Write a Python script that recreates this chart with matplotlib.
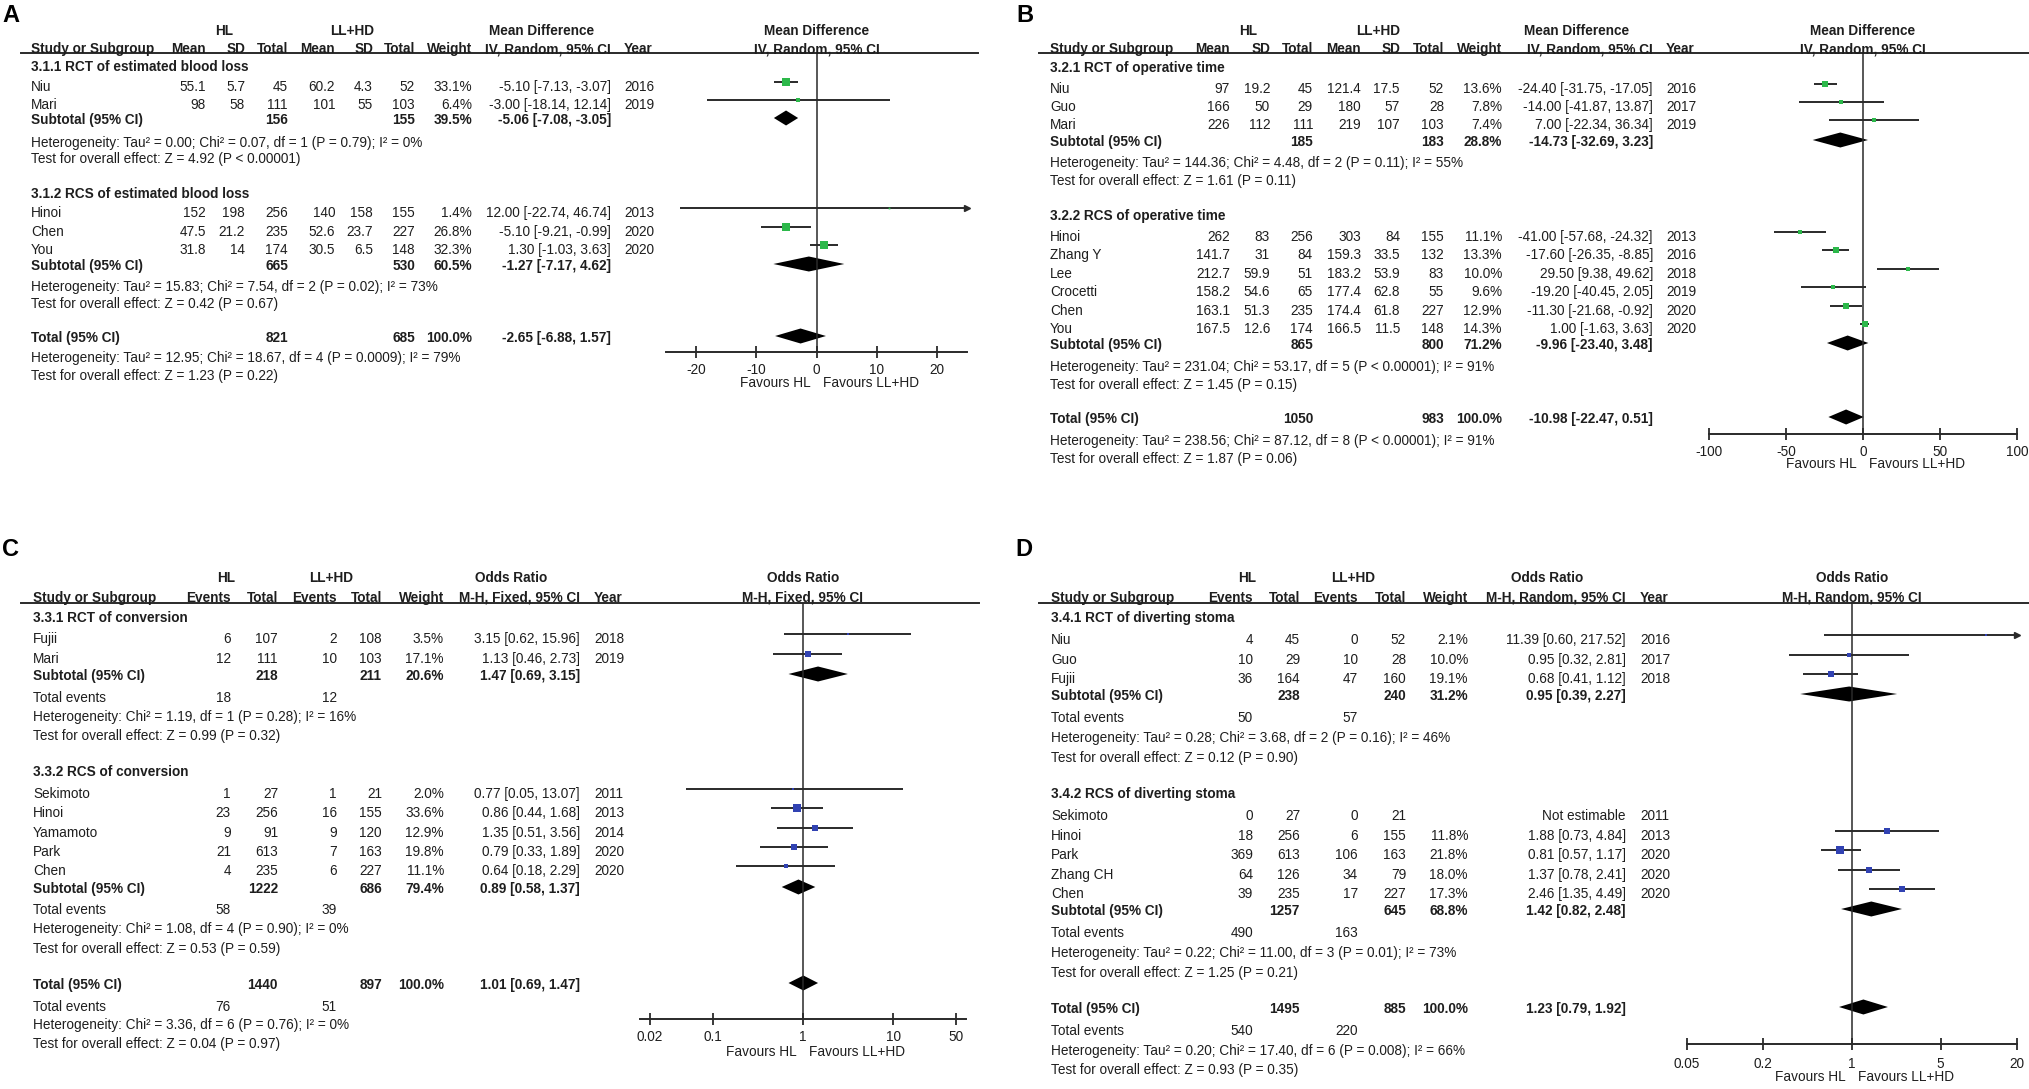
import math
import matplotlib
matplotlib.use('Agg')
import matplotlib.pyplot as plt
from matplotlib import font_manager as fm
from matplotlib import transforms as mtrans

W, H = 2029, 1089
_names = {f.name for f in fm.fontManager.ttflist}
FONT = 'Liberation Sans' if 'Liberation Sans' in _names else 'DejaVu Sans'
plt.rcParams['font.family'] = [FONT, 'DejaVu Sans']

TXT = '#1e1e1e'
LINE = '#2a2a2a'
GREEN = '#2cb84a'
BLUE = '#3142b2'
FS = 9.8

# ---------------- Panel A : estimated blood loss ----------------
A_study = ['Niu', 'Mari', 'Hinoi', 'Chen', 'You']
A_group = [0, 0, 1, 1, 1]
A_hl_mean = [55.1, 98, 152, 47.5, 31.8]
A_hl_sd = [5.7, 58, 198, 21.2, 14]
A_hl_n = [45, 111, 256, 235, 174]
A_ll_mean = [60.2, 101, 140, 52.6, 30.5]
A_ll_sd = [4.3, 55, 158, 23.7, 6.5]
A_ll_n = [52, 103, 155, 227, 148]
A_weight = [33.1, 6.4, 1.4, 26.8, 32.3]
A_est = [-5.10, -3.00, 12.00, -5.10, 1.30]
A_lo = [-7.13, -18.14, -22.74, -9.21, -1.03]
A_hi = [-3.07, 12.14, 46.74, -0.99, 3.63]
A_year = [2016, 2019, 2013, 2020, 2020]
A_sub_title = ['3.1.1 RCT of estimated blood loss', '3.1.2 RCS of estimated blood loss']
A_sub_hl_n = [156, 665]
A_sub_ll_n = [155, 530]
A_sub_weight = [39.5, 60.5]
A_sub_est = [-5.06, -1.27]
A_sub_lo = [-7.08, -7.17]
A_sub_hi = [-3.05, 4.62]
A_sub_het = ['Heterogeneity: Tau² = 0.00; Chi² = 0.07, df = 1 (P = 0.79); I² = 0%',
             'Heterogeneity: Tau² = 15.83; Chi² = 7.54, df = 2 (P = 0.02); I² = 73%']
A_sub_test = ['Test for overall effect: Z = 4.92 (P < 0.00001)',
              'Test for overall effect: Z = 0.42 (P = 0.67)']
A_tot_hl_n, A_tot_ll_n, A_tot_weight = 821, 685, 100.0
A_tot_est, A_tot_lo, A_tot_hi = -2.65, -6.88, 1.57
A_tot_het = 'Heterogeneity: Tau² = 12.95; Chi² = 18.67, df = 4 (P = 0.0009); I² = 79%'
A_tot_test = 'Test for overall effect: Z = 1.23 (P = 0.22)'
A_ticks = [-20, -10, 0, 10, 20]

# ---------------- Panel B : operative time ----------------
B_study = ['Niu', 'Guo', 'Mari', 'Hinoi', 'Zhang Y', 'Lee', 'Crocetti', 'Chen', 'You']
B_group = [0, 0, 0, 1, 1, 1, 1, 1, 1]
B_hl_mean = [97, 166, 226, 262, 141.7, 212.7, 158.2, 163.1, 167.5]
B_hl_sd = [19.2, 50, 112, 83, 31, 59.9, 54.6, 51.3, 12.6]
B_hl_n = [45, 29, 111, 256, 84, 51, 65, 235, 174]
B_ll_mean = [121.4, 180, 219, 303, 159.3, 183.2, 177.4, 174.4, 166.5]
B_ll_sd = [17.5, 57, 107, 84, 33.5, 53.9, 62.8, 61.8, 11.5]
B_ll_n = [52, 28, 103, 155, 132, 83, 55, 227, 148]
B_weight = [13.6, 7.8, 7.4, 11.1, 13.3, 10.0, 9.6, 12.9, 14.3]
B_est = [-24.40, -14.00, 7.00, -41.00, -17.60, 29.50, -19.20, -11.30, 1.00]
B_lo = [-31.75, -41.87, -22.34, -57.68, -26.35, 9.38, -40.45, -21.68, -1.63]
B_hi = [-17.05, 13.87, 36.34, -24.32, -8.85, 49.62, 2.05, -0.92, 3.63]
B_year = [2016, 2017, 2019, 2013, 2016, 2018, 2019, 2020, 2020]
B_sub_title = ['3.2.1 RCT of operative time', '3.2.2 RCS of operative time']
B_sub_hl_n = [185, 865]
B_sub_ll_n = [183, 800]
B_sub_weight = [28.8, 71.2]
B_sub_est = [-14.73, -9.96]
B_sub_lo = [-32.69, -23.40]
B_sub_hi = [3.23, 3.48]
B_sub_het = ['Heterogeneity: Tau² = 144.36; Chi² = 4.48, df = 2 (P = 0.11); I² = 55%',
             'Heterogeneity: Tau² = 231.04; Chi² = 53.17, df = 5 (P < 0.00001); I² = 91%']
B_sub_test = ['Test for overall effect: Z = 1.61 (P = 0.11)',
              'Test for overall effect: Z = 1.45 (P = 0.15)']
B_tot_hl_n, B_tot_ll_n, B_tot_weight = 1050, 983, 100.0
B_tot_est, B_tot_lo, B_tot_hi = -10.98, -22.47, 0.51
B_tot_het = 'Heterogeneity: Tau² = 238.56; Chi² = 87.12, df = 8 (P < 0.00001); I² = 91%'
B_tot_test = 'Test for overall effect: Z = 1.87 (P = 0.06)'
B_ticks = [-100, -50, 0, 50, 100]

# ---------------- Panel C : conversion ----------------
C_study = ['Fujii', 'Mari', 'Sekimoto', 'Hinoi', 'Yamamoto', 'Park', 'Chen']
C_group = [0, 0, 1, 1, 1, 1, 1]
C_hl_ev = [6, 12, 1, 23, 9, 21, 4]
C_hl_n = [107, 111, 27, 256, 91, 613, 235]
C_ll_ev = [2, 10, 1, 16, 9, 7, 6]
C_ll_n = [108, 103, 21, 155, 120, 163, 227]
C_weight = [3.5, 17.1, 2.0, 33.6, 12.9, 19.8, 11.1]
C_est = [3.15, 1.13, 0.77, 0.86, 1.35, 0.79, 0.64]
C_lo = [0.62, 0.46, 0.05, 0.44, 0.51, 0.33, 0.18]
C_hi = [15.96, 2.73, 13.07, 1.68, 3.56, 1.89, 2.29]
C_year = [2018, 2019, 2011, 2013, 2014, 2020, 2020]
C_sub_title = ['3.3.1 RCT of conversion', '3.3.2 RCS of conversion']
C_sub_hl_n = [218, 1222]
C_sub_ll_n = [211, 686]
C_sub_weight = [20.6, 79.4]
C_sub_est = [1.47, 0.89]
C_sub_lo = [0.69, 0.58]
C_sub_hi = [3.15, 1.37]
C_sub_hl_ev = [18, 58]
C_sub_ll_ev = [12, 39]
C_sub_het = ['Heterogeneity: Chi² = 1.19, df = 1 (P = 0.28); I² = 16%',
             'Heterogeneity: Chi² = 1.08, df = 4 (P = 0.90); I² = 0%']
C_sub_test = ['Test for overall effect: Z = 0.99 (P = 0.32)',
              'Test for overall effect: Z = 0.53 (P = 0.59)']
C_tot_hl_n, C_tot_ll_n, C_tot_weight = 1440, 897, 100.0
C_tot_est, C_tot_lo, C_tot_hi = 1.01, 0.69, 1.47
C_tot_hl_ev, C_tot_ll_ev = 76, 51
C_tot_het = 'Heterogeneity: Chi² = 3.36, df = 6 (P = 0.76); I² = 0%'
C_tot_test = 'Test for overall effect: Z = 0.04 (P = 0.97)'
C_ticks = [0.02, 0.1, 1, 10, 50]
C_ticklabels = ['0.02', '0.1', '1', '10', '50']

# ---------------- Panel D : diverting stoma ----------------
D_study = ['Niu', 'Guo', 'Fujii', 'Sekimoto', 'Hinoi', 'Park', 'Zhang CH', 'Chen']
D_group = [0, 0, 0, 1, 1, 1, 1, 1]
D_hl_ev = [4, 10, 36, 0, 18, 369, 64, 39]
D_hl_n = [45, 29, 164, 27, 256, 613, 126, 235]
D_ll_ev = [0, 10, 47, 0, 6, 106, 34, 17]
D_ll_n = [52, 28, 160, 21, 155, 163, 79, 227]
D_weight = [2.1, 10.0, 19.1, None, 11.8, 21.8, 18.0, 17.3]
D_est = [11.39, 0.95, 0.68, None, 1.88, 0.81, 1.37, 2.46]
D_lo = [0.60, 0.32, 0.41, None, 0.73, 0.57, 0.78, 1.35]
D_hi = [217.52, 2.81, 1.12, None, 4.84, 1.17, 2.41, 4.49]
D_year = [2016, 2017, 2018, 2011, 2013, 2020, 2020, 2020]
D_sub_title = ['3.4.1 RCT of diverting stoma', '3.4.2 RCS of diverting stoma']
D_sub_hl_n = [238, 1257]
D_sub_ll_n = [240, 645]
D_sub_weight = [31.2, 68.8]
D_sub_est = [0.95, 1.42]
D_sub_lo = [0.39, 0.82]
D_sub_hi = [2.27, 2.48]
D_sub_hl_ev = [50, 490]
D_sub_ll_ev = [57, 163]
D_sub_het = ['Heterogeneity: Tau² = 0.28; Chi² = 3.68, df = 2 (P = 0.16); I² = 46%',
             'Heterogeneity: Tau² = 0.22; Chi² = 11.00, df = 3 (P = 0.01); I² = 73%']
D_sub_test = ['Test for overall effect: Z = 0.12 (P = 0.90)',
              'Test for overall effect: Z = 1.25 (P = 0.21)']
D_tot_hl_n, D_tot_ll_n, D_tot_weight = 1495, 885, 100.0
D_tot_est, D_tot_lo, D_tot_hi = 1.23, 0.79, 1.92
D_tot_hl_ev, D_tot_ll_ev = 540, 220
D_tot_het = 'Heterogeneity: Tau² = 0.20; Chi² = 17.40, df = 6 (P = 0.008); I² = 66%'
D_tot_test = 'Test for overall effect: Z = 0.93 (P = 0.35)'
D_ticks = [0.05, 0.2, 1, 5, 20]
D_ticklabels = ['0.05', '0.2', '1', '5', '20']

# ---------------------------------------------------------------
fig = plt.figure(figsize=(W / 100, H / 100), dpi=100)
ov = fig.add_axes([0, 0, 1, 1])
ov.set_xlim(0, W)
ov.set_ylim(H, 0)
ov.axis('off')

BASE = 5  # text centre -> baseline offset (px)


def txt(x, y, s, ha='left', bold=False, size=FS):
    ov.text(x, y + BASE, s, ha=ha, va='baseline', fontsize=size,
            fontweight='bold' if bold else 'normal', color=TXT)


def fmt(v):
    return str(v)


def draw_panel(P, L):
    # letter
    ov.text(L['letter_xy'][0], L['letter_xy'][1], P['letter'], ha='left', va='center',
            fontsize=17, fontweight='bold', color='black')
    # group headers
    for lab, x in L['grp_hdr']:
        txt(x, L['y_grp'], lab, ha='center', bold=True)
    # column headers
    txt(L['x_study'], L['y_col'], 'Study or Subgroup', bold=True)
    for lab, x in zip(P['col_hdr'], L['col_x']):
        txt(x, L['y_col'], lab, ha='right', bold=True)
    txt(L['x_w'], L['y_col'], 'Weight', ha='right', bold=True)
    txt(L['x_ci'], L['y_col'], P['method'], ha='right', bold=True)
    txt(L['x_year'], L['y_col'], 'Year', bold=True)
    ov.plot([L['line_x0'], L['line_x1']], [L['y_line'], L['y_line']], color=LINE, lw=1.4)

    # forest axes
    x0, x1 = L['ax_x']
    ytop, ybot = L['y_line'], L['ax_y']
    ax = fig.add_axes([x0 / W, 1 - ybot / H, (x1 - x0) / W, (ybot - ytop) / H])
    ax.patch.set_alpha(0)
    if P['log']:
        ax.set_xscale('log')
    ax.set_xlim(P['xlim'])
    ax.set_ylim(ybot, ytop)
    for s in ('top', 'left', 'right'):
        ax.spines[s].set_visible(False)
    ax.spines['bottom'].set_color(LINE)
    ax.spines['bottom'].set_linewidth(1.4)
    ax.set_yticks([])
    ax.set_xticks(P['ticks'])
    ax.set_xticklabels(P['ticklabels'])
    ax.minorticks_off()
    ax.tick_params(axis='x', direction='inout', length=8, width=1.3, color=LINE,
                   labelsize=FS, labelcolor=TXT, pad=(L['y_tick'] - L['ax_y'] - 9) * 0.72)
    ax.axvline(P['null'], color=LINE, lw=1.1)
    blend = mtrans.blended_transform_factory(ax.transData, ov.transData)
    ax.text(P['null'], L['y_grp'] + BASE, P['effect'], transform=blend, ha='center',
            va='baseline', fontsize=FS, fontweight='bold', color=TXT)
    ax.text(P['null'], L['y_col'] + BASE, P['method'], transform=blend, ha='center',
            va='baseline', fontsize=FS, fontweight='bold', color=TXT)
    ax.annotate('Favours HL', xy=(P['null'], L['y_fav'] + BASE), xycoords=blend,
                xytext=(-4.5, 0), textcoords='offset points', ha='right', va='baseline',
                fontsize=FS, color=TXT)
    ax.annotate('Favours LL+HD', xy=(P['null'], L['y_fav'] + BASE), xycoords=blend,
                xytext=(4.5, 0), textcoords='offset points', ha='left', va='baseline',
                fontsize=FS, color=TXT)
    xmin, xmax = P['xlim']

    def diamond(e, lo, hi, y):
        h = 7.5
        ax.fill([lo, e, hi, e], [y, y - h, y, y + h], color='black', lw=0)

    n_idx = L['n_idx']
    ev_idx = L.get('ev_idx')
    for g in range(2):
        txt(L['x_study'], L['y_sub'][g], P['sub_title'][g], bold=True)
        idx = [i for i, gg in enumerate(P['group']) if gg == g]
        for i in idx:
            y = L['y_study'][i]
            txt(L['x_study'], y, P['study'][i])
            for col, x in zip(P['cols'], L['col_x']):
                txt(x, y, fmt(col[i]), ha='right')
            txt(L['x_year'], y, str(P['year'][i]))
            if P['est'][i] is None:
                txt(L['x_ci'], y, 'Not estimable', ha='right')
                continue
            txt(L['x_w'], y, '%.1f%%' % P['weight'][i], ha='right')
            txt(L['x_ci'], y, '%.2f [%.2f, %.2f]' % (P['est'][i], P['lo'][i], P['hi'][i]), ha='right')
            ym = y - 4
            lo = max(P['lo'][i], xmin)
            hi = min(P['hi'][i], xmax)
            ax.plot([lo, hi], [ym, ym], color=LINE, lw=1.4, solid_capstyle='butt')
            if P['hi'][i] > xmax:
                ax.plot([xmax], [ym], marker='>', ms=5, color=LINE, clip_on=False, ls='none')
            side = 1.5 * math.sqrt(P['weight'][i]) * 0.72
            ax.plot([P['est'][i]], [ym], marker='s', ms=side, mfc=P['color'], mec=P['color'],
                    mew=0, ls='none')
        # subtotal
        ys = L['y_subtot'][g]
        txt(L['x_study'], ys, 'Subtotal (95% CI)', bold=True)
        txt(L['col_x'][n_idx[0]], ys, str(P['sub_hl_n'][g]), ha='right', bold=True)
        txt(L['col_x'][n_idx[1]], ys, str(P['sub_ll_n'][g]), ha='right', bold=True)
        txt(L['x_w'], ys, '%.1f%%' % P['sub_weight'][g], ha='right', bold=True)
        txt(L['x_ci'], ys, '%.2f [%.2f, %.2f]' % (P['sub_est'][g], P['sub_lo'][g], P['sub_hi'][g]),
            ha='right', bold=True)
        diamond(P['sub_est'][g], P['sub_lo'][g], P['sub_hi'][g], ys - 1)
        if ev_idx is not None:
            ye = L['y_events'][g]
            txt(L['x_study'], ye, 'Total events')
            txt(L['col_x'][ev_idx[0]], ye, str(P['sub_hl_ev'][g]), ha='right')
            txt(L['col_x'][ev_idx[1]], ye, str(P['sub_ll_ev'][g]), ha='right')
        txt(L['x_study'], L['y_het'][g], P['sub_het'][g])
        txt(L['x_study'], L['y_test'][g], P['sub_test'][g])
    # total
    yt = L['y_tot']
    txt(L['x_study'], yt, 'Total (95% CI)', bold=True)
    txt(L['col_x'][n_idx[0]], yt, str(P['tot_hl_n']), ha='right', bold=True)
    txt(L['col_x'][n_idx[1]], yt, str(P['tot_ll_n']), ha='right', bold=True)
    txt(L['x_w'], yt, '%.1f%%' % P['tot_weight'], ha='right', bold=True)
    txt(L['x_ci'], yt, '%.2f [%.2f, %.2f]' % (P['tot_est'], P['tot_lo'], P['tot_hi']), ha='right', bold=True)
    diamond(P['tot_est'], P['tot_lo'], P['tot_hi'], yt - 1)
    if ev_idx is not None:
        ye = L['y_totev']
        txt(L['x_study'], ye, 'Total events')
        txt(L['col_x'][ev_idx[0]], ye, str(P['tot_hl_ev']), ha='right')
        txt(L['col_x'][ev_idx[1]], ye, str(P['tot_ll_ev']), ha='right')
    txt(L['x_study'], L['y_tothet'], P['tot_het'])
    txt(L['x_study'], L['y_tottest'], P['tot_test'])


def collect(prefix, names):
    g = globals()
    return {n: g[prefix + n] for n in names}


COMMON = ['study', 'group', 'weight', 'est', 'lo', 'hi', 'year', 'sub_title', 'sub_hl_n', 'sub_ll_n',
          'sub_weight', 'sub_est', 'sub_lo', 'sub_hi', 'sub_het', 'sub_test', 'tot_hl_n', 'tot_ll_n',
          'tot_weight', 'tot_est', 'tot_lo', 'tot_hi', 'tot_het', 'tot_test']
EVENTS = ['sub_hl_ev', 'sub_ll_ev', 'tot_hl_ev', 'tot_ll_ev']

PA = collect('A_', COMMON)
PA.update(letter='A', cols=[A_hl_mean, A_hl_sd, A_hl_n, A_ll_mean, A_ll_sd, A_ll_n],
          col_hdr=['Mean', 'SD', 'Total', 'Mean', 'SD', 'Total'], effect='Mean Difference',
          method='IV, Random, 95% CI', log=False, xlim=(-25, 25), ticks=A_ticks,
          ticklabels=[str(t) for t in A_ticks], null=0, color=GREEN)
PB = collect('B_', COMMON)
PB.update(letter='B', cols=[B_hl_mean, B_hl_sd, B_hl_n, B_ll_mean, B_ll_sd, B_ll_n],
          col_hdr=['Mean', 'SD', 'Total', 'Mean', 'SD', 'Total'], effect='Mean Difference',
          method='IV, Random, 95% CI', log=False, xlim=(-100, 100), ticks=B_ticks,
          ticklabels=[str(t) for t in B_ticks], null=0, color=GREEN)
PC = collect('C_', COMMON + EVENTS)
PC.update(letter='C', cols=[C_hl_ev, C_hl_n, C_ll_ev, C_ll_n],
          col_hdr=['Events', 'Total', 'Events', 'Total'], effect='Odds Ratio',
          method='M-H, Fixed, 95% CI', log=True, xlim=(10 ** -1.811, 10 ** 1.811), ticks=C_ticks,
          ticklabels=C_ticklabels, null=1, color=BLUE)
PD = collect('D_', COMMON + EVENTS)
PD.update(letter='D', cols=[D_hl_ev, D_hl_n, D_ll_ev, D_ll_n],
          col_hdr=['Events', 'Total', 'Events', 'Total'], effect='Odds Ratio',
          method='M-H, Random, 95% CI', log=True, xlim=(0.05, 20), ticks=D_ticks,
          ticklabels=D_ticklabels, null=1, color=BLUE)

LA = dict(letter_xy=(2, 15), y_grp=30, y_col=48, y_line=53, x_study=31,
          col_x=[206, 245, 288, 335, 373, 415], n_idx=(2, 5), x_w=472, x_ci=611, x_year=624,
          line_x0=21, line_x1=978, grp_hdr=[('HL', 224), ('LL+HD', 352), ('Mean Difference', 542)],
          ax_x=(666, 967), ax_y=352, y_tick=366, y_fav=382,
          y_sub=[66, 193], y_study=[86, 104, 212, 231, 249], y_subtot=[119, 265],
          y_het=[142, 286], y_test=[158, 303], y_tot=337, y_tothet=357, y_tottest=375)
LB = dict(letter_xy=(1016, 15), y_grp=30, y_col=48, y_line=53, x_study=1050,
          col_x=[1230, 1270, 1313, 1361, 1400, 1444], n_idx=(2, 5), x_w=1502, x_ci=1653, x_year=1666,
          line_x0=1039, line_x1=2029, grp_hdr=[('HL', 1248), ('LL+HD', 1378), ('Mean Difference', 1577)],
          ax_x=(1709, 2017), ax_y=434, y_tick=448, y_fav=463,
          y_sub=[67, 215], y_study=[88, 106, 124, 236, 254, 273, 291, 310, 328], y_subtot=[141, 344],
          y_het=[162, 366], y_test=[180, 384], y_tot=418, y_tothet=440, y_tottest=458)
LC = dict(letter_xy=(2, 549), y_grp=577, y_col=597, y_line=603, x_study=33,
          col_x=[231, 278, 337, 382], n_idx=(1, 3), ev_idx=(0, 2), x_w=444, x_ci=580, x_year=594,
          line_x0=21, line_x1=979, grp_hdr=[('HL', 226), ('LL+HD', 331), ('Odds Ratio', 511)],
          ax_x=(640, 966), ax_y=1019, y_tick=1033, y_fav=1051,
          y_sub=[617, 771], y_study=[638, 658, 793, 812, 832, 851, 870], y_subtot=[675, 888],
          y_events=[697, 909], y_het=[716, 928], y_test=[735, 948], y_tot=984, y_totev=1006,
          y_tothet=1024, y_tottest=1043)
LD = dict(letter_xy=(1015, 549), y_grp=577, y_col=597, y_line=603, x_study=1051,
          col_x=[1253, 1300, 1358, 1406], n_idx=(1, 3), ev_idx=(0, 2), x_w=1468, x_ci=1626, x_year=1640,
          line_x0=1039, line_x1=2029, grp_hdr=[('HL', 1247), ('LL+HD', 1353), ('Odds Ratio', 1547)],
          ax_x=(1687, 2017), ax_y=1044, y_tick=1060, y_fav=1076,
          y_sub=[617, 793], y_study=[639, 659, 678, 815, 835, 854, 874, 893], y_subtot=[695, 910],
          y_events=[717, 932], y_het=[737, 952], y_test=[757, 972], y_tot=1008, y_totev=1030,
          y_tothet=1050, y_tottest=1069)

for P, L in ((PA, LA), (PB, LB), (PC, LC), (PD, LD)):
    draw_panel(P, L)

fig.savefig('out.png', dpi=100, facecolor='white')
